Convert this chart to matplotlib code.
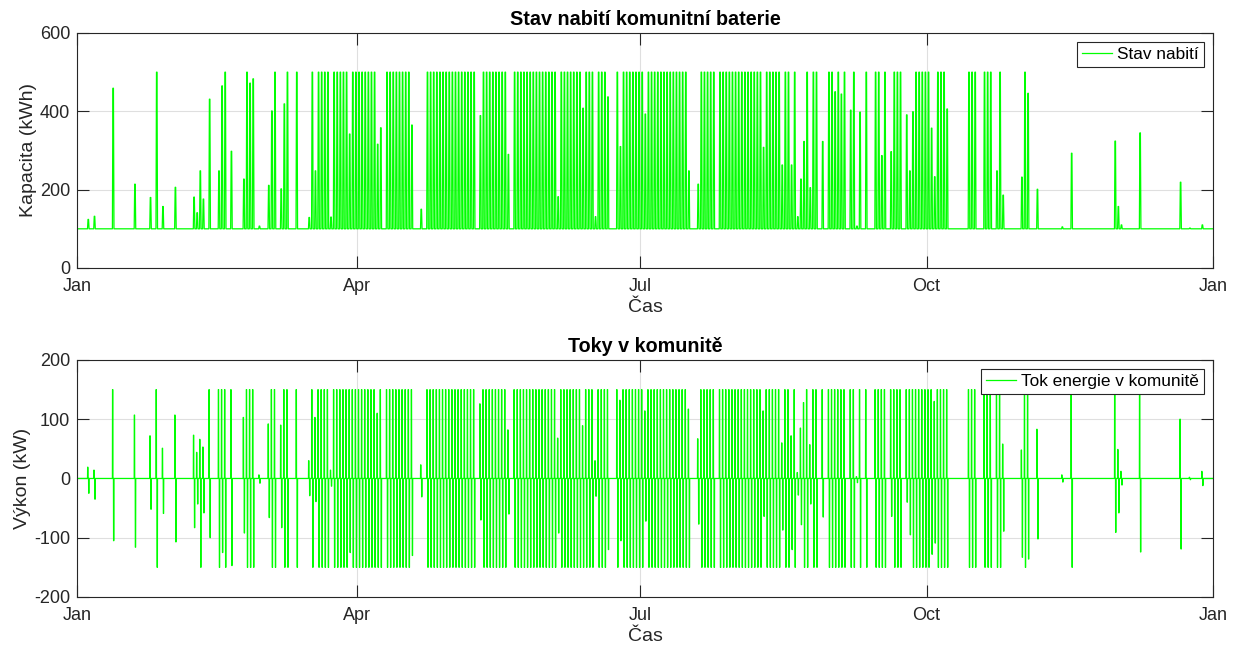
import numpy as np
import matplotlib.pyplot as plt
import matplotlib.dates as mdates

plt.rcParams['font.family'] = ['Liberation Sans', 'DejaVu Sans']
plt.rcParams['axes.unicode_minus'] = False

year_start = np.datetime64('2023-01-01T00:00')
year_end = np.datetime64('2024-01-01T00:00')

soc_base = 100      # kWh, minimum state of charge held by the controller
soc_full = 500      # kWh
p_max = 150         # kW, converter limit

# days (0 = 1 Jan) where the battery ran a full cycle: 500 kWh, +-150 kW
full_runs = [(25, 25), (47, 47), (54, 54), (63, 63), (67, 67), (70, 70),
             (75, 75), (77, 80), (82, 86), (88, 95), (99, 106), (112, 127),
             (130, 137), (140, 153), (155, 161), (163, 165), (167, 169),
             (173, 173), (175, 181), (183, 195), (200, 204), (206, 219),
             (221, 225), (227, 228), (230, 230), (234, 234), (236, 237),
             (241, 242), (244, 244), (246, 246), (249, 249), (253, 253),
             (256, 257), (259, 259), (262, 264), (269, 273), (276, 278),
             (286, 288), (291, 293), (296, 296), (304, 304)]

# partial cycles: day, peak state of charge (kWh), charge peak (kW), discharge peak (kW)
part_days = [3, 5, 11, 18, 23, 27, 31, 37, 38, 39, 40, 42, 45, 46, 49, 53,
             55, 56, 58, 61, 62, 65, 66, 74, 76, 81, 87,
             96, 97, 107, 110, 129, 138, 154, 162, 166, 170, 174, 182, 196,
             199, 220, 226, 229, 231, 232, 233, 235, 239, 243, 245, 248,
             250, 251, 258, 261, 266, 267, 268, 274, 275, 279,
             295, 297, 303, 305, 308, 316, 319, 333, 334, 335, 341, 354,
             357, 361]
part_soc = [124, 132, 459, 214, 180, 157, 206, 181, 141, 248, 176, 431, 248,
            465, 298, 227, 472, 483, 107, 211, 401, 202, 419, 129, 248, 130,
            342,
            316, 358, 365, 150, 389, 290, 182, 408, 131, 437, 310, 393, 248,
            214, 308, 263, 263, 131, 227, 323, 205, 323, 450, 444, 403,
            107, 398, 287, 297, 391, 248, 399, 357, 233, 406,
            248, 186, 232, 446, 201, 105, 293, 324, 157, 110, 345, 219,
            102, 110]
part_chg = [19, 14, 150, 107, 72, 51, 107, 73, 44, 66, 53, 150, 150, 150,
            150, 103, 150, 150, 6, 92, 150, 90, 150, 30, 103, 14, 150,
            110, 150, 150, 23, 126, 82, 68, 89, 30, 150, 132, 114, 117,
            67, 114, 60, 72, 10, 85, 128, 57, 150, 150, 150, 150,
            3, 150, 150, 150, 150, 150, 150, 150, 130, 150,
            150, 58, 48, 150, 83, 6, 150, 150, 49, 12, 150, 100,
            2, 12]
part_dis = [-25, -35, -105, -116, -52, -59, -107, -83, -43, -150, -58, -100,
            -150, -125, -147, -92, -150, -150, -8, -66, -150, -83, -150, -29,
            -39, -13, -125,
            -150, -150, -130, -31, -70, -60, -92, -150, -30, -120, -105, -72,
            -150, -77, -64, -87, -120, -28, -78, -150, -43, -65, -150, -150,
            -150, -7, -150, -150, -64, -40, -95, -150, -128, -109, -150,
            -150, -89, -133, -136, -102, -6, -150, -91, -58, -11, -124,
            -119, -2, -12]

# one record per active day
days, peaks, chg, dis = [], [], [], []
for a, b in full_runs:
    for d in range(a, b + 1):
        days.append(d); peaks.append(soc_full); chg.append(p_max); dis.append(-p_max)
days += part_days; peaks += part_soc; chg += part_chg; dis += part_dis
order = np.argsort(days)
days = np.array(days)[order]
peaks = np.array(peaks)[order]
chg = np.array(chg)[order]
dis = np.array(dis)[order]

# daily schedule (hour of day): charge around noon, discharge in the evening
h_soc = [9, 13, 17, 21]
h_flow = [9, 10, 12, 13, 17, 18, 20, 21]

t_soc, y_soc = [0.0], [soc_base]
t_flow, y_flow = [0.0], [0.0]
for d, p, c, q in zip(days, peaks, chg, dis):
    t_soc += [d + h / 24 for h in h_soc]
    y_soc += [soc_base, p, p, soc_base]
    t_flow += [d + h / 24 for h in h_flow]
    y_flow += [0, c, c, 0, 0, q, q, 0]
t_soc.append(365.0); y_soc.append(soc_base)
t_flow.append(365.0); y_flow.append(0)


def to_time(t):
    return year_start + (np.array(t) * 24 * 60).astype('timedelta64[m]')


green = '#00ff00'
dark = '#262626'

fig = plt.figure(figsize=(12.36, 6.52), dpi=100)
ax1 = fig.add_axes([0.0623, 0.589, 0.919, 0.3604])
ax2 = fig.add_axes([0.0623, 0.0844, 0.919, 0.3635])

ax1.plot(to_time(t_soc), y_soc, color=green, lw=0.9, label='Stav nabití')
ax2.plot(to_time(t_flow), y_flow, color=green, lw=0.9, label='Tok energie v komunitě')

for ax, title, ylab, ylim, yt in [
        (ax1, 'Stav nabití komunitní baterie', 'Kapacita (kWh)', (0, 600), [0, 200, 400, 600]),
        (ax2, 'Toky v komunitě', 'Výkon (kW)', (-200, 200), [-200, -100, 0, 100, 200])]:
    ax.set_xlim(year_start, year_end)
    ax.set_ylim(*ylim)
    ax.set_yticks(yt)
    ax.xaxis.set_major_locator(mdates.MonthLocator(bymonth=[1, 4, 7, 10]))
    ax.xaxis.set_major_formatter(mdates.DateFormatter('%b'))
    ax.grid(True, color='#dfdfdf', lw=0.8)
    ax.set_axisbelow(True)
    ax.tick_params(direction='in', length=8.3, width=0.8, colors=dark,
                   labelsize=13, top=True, right=True, pad=5)
    ax.tick_params(axis='x', pad=7)
    for s in ax.spines.values():
        s.set_color(dark)
        s.set_linewidth(0.8)
    ax.set_title(title, fontsize=14.2, fontweight='bold', color='black', pad=6)
    ax.set_xlabel('Čas', fontsize=14, color=dark, labelpad=3)
    ax.set_ylabel(ylab, fontsize=14, color=dark, labelpad=2)
    leg = ax.legend(loc='upper right', fontsize=12.4, fancybox=False,
                    edgecolor=dark, framealpha=1, borderaxespad=0.5,
                    handlelength=1.75, borderpad=0.3, handletextpad=0.3)
    leg.get_frame().set_linewidth(0.8)

fig.savefig('out.png', dpi=100)
